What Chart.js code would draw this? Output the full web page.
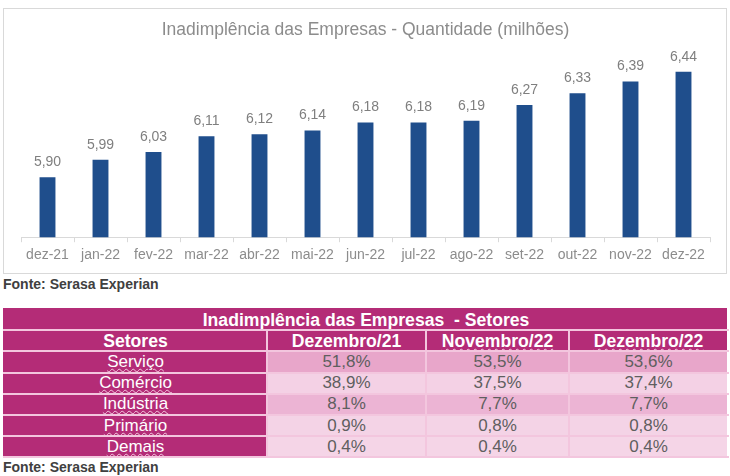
<!DOCTYPE html>
<html>
<head>
<meta charset="utf-8">
<script src="https://cdn.jsdelivr.net/npm/chart.js@4/dist/chart.umd.min.js"></script>
<style>
  body { margin: 0; background: #fff; width: 730px; height: 476px; position: relative; overflow: hidden; font-family: "Liberation Sans", Arial, sans-serif; }
  #box { position: absolute; left: 3px; top: 8px; width: 722px; height: 264px; border: 1px solid #d9d9d9; }
  #wheel { display: block; }
  .fonte { position: absolute; left: 3px; font-weight: bold; font-size: 14px; line-height: 16px; color: #404040; }
  #tbl { position: absolute; left: 3px; top: 308px; width: 724px; border-collapse: collapse; table-layout: fixed; }
  #tbl td { height: 19.2px; padding: 0; border: 2px solid #f3c6de; text-align: center; font-size: 17px; line-height: 18px; overflow: hidden; white-space: nowrap; }
  #tbl tr:first-child td { border-top-color: #b42c77; }
  #tbl td:first-child { border-left-color: #b42c77; }
  #tbl td:last-child { border-right-color: #fff; }
  #tbl .mag { background: #b42c77; color: #fff; }
  #tbl .hd { font-weight: bold; font-size: 17.6px; }
  #tbl .val { color: #5f5f5f; }
  .spell { text-decoration: underline wavy #f4c9e0; text-decoration-thickness: 1px; text-underline-offset: 1px; }
</style>
</head>
<body>
<div id="box"><canvas id="wheel" width="722" height="264"></canvas></div>
<div class="fonte" style="top:276px">Fonte: Serasa Experian</div>
<table id="tbl"></table>
<div class="fonte" style="top:459px">Fonte: Serasa Experian</div>
<script>
// grafico de barras
const months = ["dez-21", "jan-22", "fev-22", "mar-22", "abr-22", "mai-22", "jun-22", "jul-22", "ago-22", "set-22", "out-22", "nov-22", "dez-22"];
const quantidade = [5.90, 5.99, 6.03, 6.11, 6.12, 6.14, 6.18, 6.18, 6.19, 6.27, 6.33, 6.39, 6.44];
const yMin = 5.594;
const yMax = 6.559;

// tabela de setores
const tableTitle = "Inadimplência das Empresas\u00a0\u00a0- Setores";
const headers = ["Setores", "Dezembro/21", "Novembro/22", "Dezembro/22"];
const setores = ["Serviço", "Comércio", "Indústria", "Primário", "Demais"];
const dez21 = ["51,8%", "38,9%", "8,1%", "0,9%", "0,4%"];
const nov22 = ["53,5%", "37,5%", "7,7%", "0,8%", "0,4%"];
const dez22 = ["53,6%", "37,4%", "7,7%", "0,8%", "0,4%"];
const rowColors = ["#e8a6ca", "#f4d1e5", "#ecb4d4", "#f4d3e6", "#f5d5e7"];

//Plugin for the value labels above bars
const valueLabels = {
    id: "valueLabels",
    afterDatasetsDraw(chart) {
        const ctx = chart.ctx;
        const meta = chart.getDatasetMeta(0);
        ctx.save();
        ctx.font = "14px 'Liberation Sans', Arial, sans-serif";
        ctx.fillStyle = "#7f7f7f";
        ctx.textAlign = "center";
        ctx.textBaseline = "middle";
        meta.data.forEach((bar, i) => {
            const v = chart.data.datasets[0].data[i];
            ctx.fillText(v.toFixed(2).replace(".", ","), bar.x, bar.y - 15);
        });
        ctx.restore();
    }
};

const wheel = document.getElementById("wheel");
let myChart = new Chart(wheel, {
    type: "bar",
    plugins: [valueLabels],
    data: {
        labels: months,
        datasets: [{
            data: quantidade,
            backgroundColor: "#1f4e8c",
            borderWidth: 0,
            barPercentage: 0.3,
            categoryPercentage: 1,
        }],
    },
    options: {
        responsive: false,
        devicePixelRatio: 1,
        animation: false,
        layout: { padding: { left: 17, right: 16, top: 0, bottom: 4 } },
        plugins: {
            legend: { display: false },
            tooltip: { enabled: false },
            title: {
                display: true,
                text: "Inadimplência das Empresas - Quantidade (milhões)",
                color: "#8c8c8c",
                font: { family: "'Liberation Sans', Arial, sans-serif", size: 17.5, weight: "normal" },
                padding: { top: 10.5, bottom: 8 },
            },
        },
        scales: {
            x: {
                grid: { display: true, drawOnChartArea: false, tickLength: 5, color: "#d9d9d9", offset: true },
                border: { color: "#d9d9d9" },
                ticks: {
                    color: "#8c8c8c",
                    font: { family: "'Liberation Sans', Arial, sans-serif", size: 14 },
                    padding: 5,
                    maxRotation: 0,
                    autoSkip: false,
                },
            },
            y: { display: false, min: yMin, max: yMax },
        },
    },
});

// monta a tabela
const tbl = document.getElementById("tbl");
const colW = [263, 159, 143, 159];
let html = "<colgroup>" + colW.map(w => `<col style="width:${w}px">`).join("") + "</colgroup>";
html += `<tr><td class="mag hd" colspan="4">${tableTitle}</td></tr>`;
html += "<tr>" + headers.map((h, i) => {
    const txt = (i >= 2) ? `<span class="spell">${h}</span>` : h;
    return `<td class="mag hd">${txt}</td>`;
}).join("") + "</tr>";
for (let i = 0; i < setores.length; i++) {
    html += `<tr><td class="mag"><span class="spell">${setores[i]}</span></td>`;
    [dez21, nov22, dez22].forEach(col => {
        html += `<td class="val" style="background:${rowColors[i]}">${col[i]}</td>`;
    });
    html += "</tr>";
}
tbl.innerHTML = html;
</script>
</body>
</html>
